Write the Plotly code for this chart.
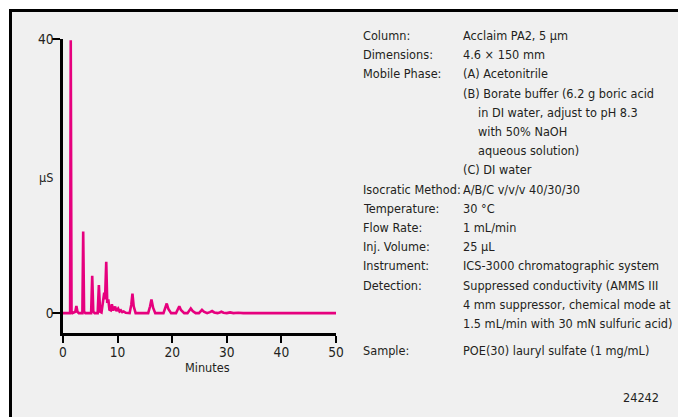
import plotly.graph_objects as go

# Chromatogram of POE(30) lauryl sulfate: retention time (min) vs. conductivity (µS)
time_min = [
    0.0, 1.30, 1.42, 1.56, 1.75,
    2.25, 2.45, 2.65, 2.90,
    3.55, 3.70, 3.86, 4.10,
    5.15, 5.35, 5.55, 5.80,
    6.35, 6.57, 6.80, 7.05,
    7.35, 7.55, 7.70, 7.92, 8.10, 8.30, 8.50, 8.75, 8.95, 9.20,
    9.55, 9.80, 10.10, 10.35, 10.60, 10.85, 11.10, 11.50,
    12.20, 12.50, 12.72, 12.95, 13.30,
    15.60, 15.95, 16.20, 16.50, 16.90,
    18.40, 18.75, 19.00, 19.30, 19.80,
    20.70, 21.05, 21.30, 21.60, 22.20,
    22.80, 23.15, 23.40, 23.75, 24.30,
    24.90, 25.20, 25.45, 25.80, 26.40,
    26.90, 27.30, 27.70, 28.30,
    28.70, 29.00, 29.40, 30.00,
    30.60, 31.20, 32.10, 33.00, 50.0,
]
signal_uS = [
    0.0, 0.0, 39.8, 0.3, 0.0,
    0.2, 1.05, 0.2, 0.0,
    0.0, 11.9, 0.2, 0.0,
    0.0, 5.45, 0.2, 0.0,
    0.0, 4.1, 0.2, 0.1,
    1.5, 3.0, 2.0, 7.5, 1.5, 2.0, 0.5, 0.4, 1.3, 0.4,
    0.95, 0.3, 0.65, 0.25, 0.4, 0.15, 0.25, 0.05,
    0.0, 1.2, 2.85, 1.0, 0.0,
    0.0, 1.0, 2.0, 0.8, 0.0,
    0.0, 0.8, 1.4, 0.6, 0.0,
    0.0, 0.6, 1.0, 0.45, 0.0,
    0.0, 0.4, 0.68, 0.3, 0.0,
    0.0, 0.3, 0.48, 0.2, 0.0,
    0.15, 0.3, 0.1, 0.0,
    0.1, 0.2, 0.05, 0.0,
    0.1, 0.0, 0.05, 0.0, 0.0,
]

x_ticks = [0, 10, 20, 30, 40, 50]
y_ticks = [0, 40]

# Method conditions: (label, value, indented); empty label = continuation line
condition_rows = [
    ("Column:", "Acclaim PA2, 5 µm", 0),
    ("Dimensions:", "4.6 × 150 mm", 0),
    ("Mobile Phase:", "(A) Acetonitrile", 0),
    ("", "(B) Borate buffer (6.2 g boric acid", 0),
    ("", "in DI water, adjust to pH 8.3", 1),
    ("", "with 50% NaOH", 1),
    ("", "aqueous solution)", 1),
    ("", "(C) DI water", 0),
    ("Isocratic Method:", "A/B/C v/v/v 40/30/30", 0),
    ("Temperature:", "30 °C", 0),
    ("Flow Rate:", "1 mL/min", 0),
    ("Inj. Volume:", "25 µL", 0),
    ("Instrument:", "ICS-3000 chromatographic system", 0),
    ("Detection:", "Suppressed conductivity (AMMS III", 0),
    ("", "4 mm suppressor, chemical mode at", 0),
    ("", "1.5 mL/min with 30 mN sulfuric acid)", 0),
]
sample_row = ("Sample:", "POE(30) lauryl sulfate (1 mg/mL)")
figure_id = "24242"

W, H = 678, 417
L, R, T, B = 63, 342, 39, 84
PW, PH = W - L - R, H - T - B

def px(x):
    return (x - L) / PW

def py(y):
    return (H - B - y) / PH

FONT = "DejaVu Sans Condensed, Liberation Sans Narrow, Arial Narrow, sans-serif"
FS = 12.6
INK = "#231f20"
PINK = "#e6007e"

fig = go.Figure()
fig.add_trace(go.Scatter(
    x=time_min, y=signal_uS, mode="lines",
    line=dict(color=PINK, width=2.6), hoverinfo="skip", showlegend=False,
))

annotations = []

def add_text(x, y, text, anchor="left"):
    annotations.append(dict(
        x=px(x), y=py(y), xref="paper", yref="paper", text=text,
        showarrow=False, xanchor=anchor, yanchor="middle",
        font=dict(family=FONT, size=FS, color=INK),
    ))

row_y0, row_step = 35.5, 19.2
for i, (label, value, indent) in enumerate(condition_rows):
    y = row_y0 + i * row_step
    if label:
        add_text(361, y, label)
    if value:
        add_text(476 if indent else 461, y, value)
add_text(361, 350, sample_row[0])
add_text(461, 350, sample_row[1])
add_text(661, 397, figure_id, anchor="right")
add_text(207, 367, "Minutes", anchor="center")
add_text(46, 177, "µS", anchor="center")

fig.update_layout(
    width=W, height=H,
    margin=dict(l=L, r=R, t=T, b=B, pad=0),
    paper_bgcolor="white",
    plot_bgcolor="rgba(0,0,0,0)",
    showlegend=False,
    annotations=annotations,
    shapes=[dict(
        type="rect", xref="paper", yref="paper", layer="below",
        x0=px(10.5), x1=px(700), y0=py(440), y1=py(10.5),
        fillcolor="#f0f0f0", line=dict(color="black", width=3),
    )],
    xaxis=dict(
        range=[0, 50], tickvals=x_ticks, showgrid=False, zeroline=False,
        showline=True, linecolor="black", linewidth=2.5,
        ticks="outside", ticklen=7, tickwidth=2, tickcolor="black",
        ticklabelstandoff=-2,
        tickfont=dict(family=FONT, size=FS + 1, color=INK),
    ),
    yaxis=dict(
        range=[-2.9, 40], tickvals=y_ticks, showgrid=False, zeroline=False,
        showline=True, linecolor="black", linewidth=2.5,
        ticks="outside", ticklen=8, tickwidth=2, tickcolor="black",
        ticklabelstandoff=-4,
        tickfont=dict(family=FONT, size=FS + 1, color=INK),
    ),
)

fig.write_html("out.html")
